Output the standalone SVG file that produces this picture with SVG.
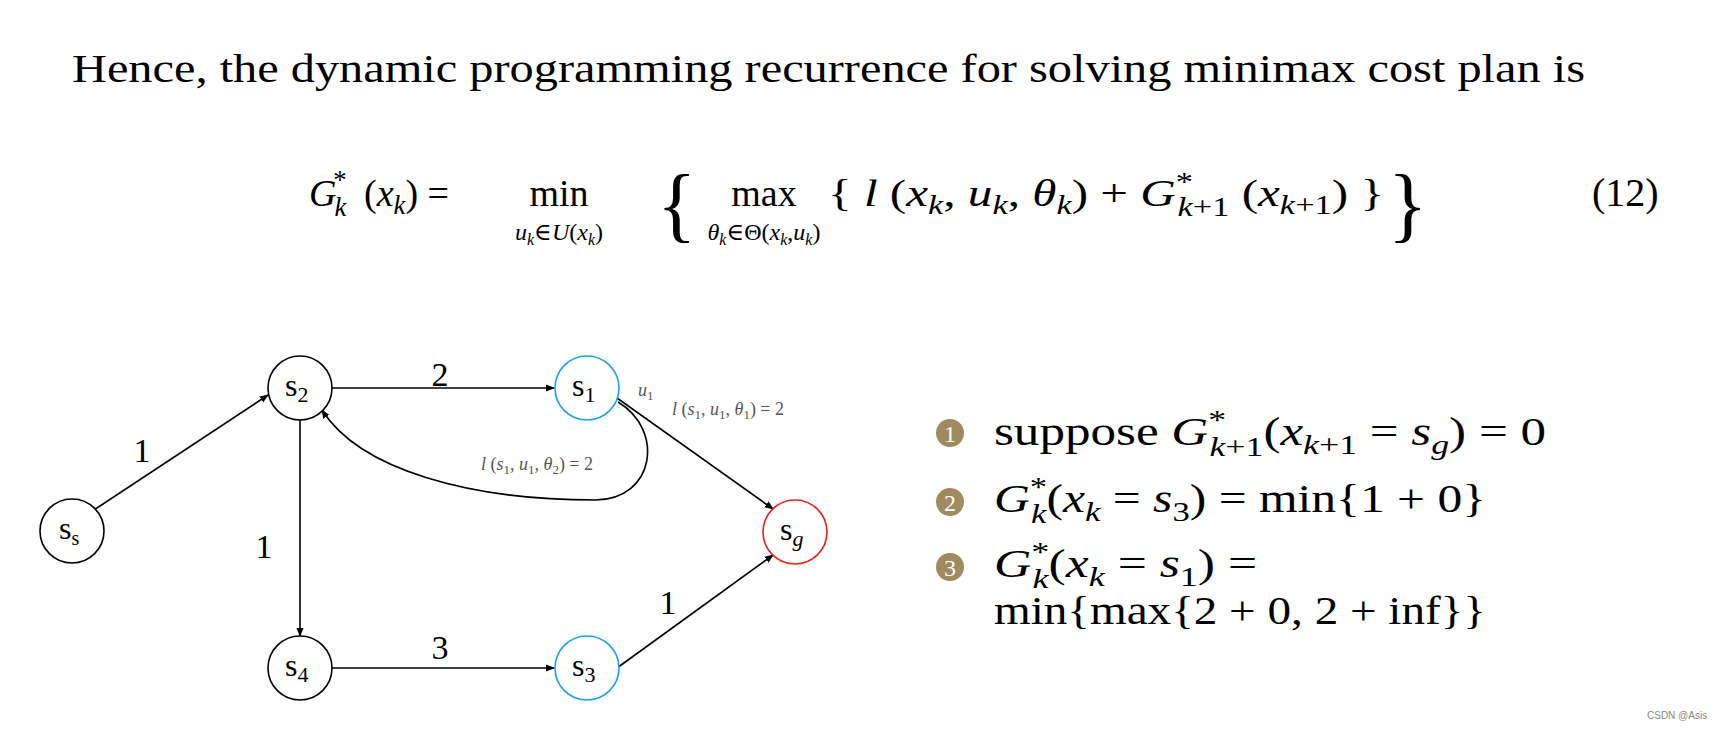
<svg xmlns="http://www.w3.org/2000/svg" width="1716" height="732" viewBox="0 0 1716 732">
<style>
text{font-family:"Liberation Serif","DejaVu Serif",serif;fill:#000}
.i{font-style:italic}
.n{fill:#fff;stroke-width:1.6}
.e{fill:none;stroke:#000;stroke-width:1.6}
.lbl{font-size:34px}
.g{fill:#555;font-size:18px}
.sub{font-size:0.7em}
</style>
<defs>
<marker id="a" viewBox="0 0 10 10" refX="9" refY="5" markerWidth="9" markerHeight="9" orient="auto" markerUnits="userSpaceOnUse"><path d="M0,1 L10,5 L0,9 z" fill="#000"/></marker>
</defs>
<rect width="1716" height="732" fill="#fff"/>
<text x="72" y="82" font-size="40" textLength="1513" lengthAdjust="spacingAndGlyphs">Hence, the dynamic programming recurrence for solving minimax cost plan is</text>
<g id="equation" font-size="38">
<text x="309" y="206" textLength="140" lengthAdjust="spacingAndGlyphs"><tspan class="i">G</tspan><tspan class="i sub" dy="10" dx="-2">k</tspan><tspan class="sub" dx="-13" dy="-27">*</tspan><tspan dy="17" dx="8"> (</tspan><tspan class="i">x</tspan><tspan class="i sub" dy="8">k</tspan><tspan dy="-8">) =</tspan></text>
<text x="559" y="206" text-anchor="middle">min</text>
<text x="559" y="240" text-anchor="middle" font-size="24"><tspan class="i">u<tspan font-size="16" dy="5">k</tspan></tspan><tspan dy="-5">∈</tspan><tspan class="i">U</tspan>(<tspan class="i">x<tspan font-size="16" dy="5">k</tspan></tspan><tspan dy="-5">)</tspan></text>
<text x="657" y="232" font-size="82">{</text>
<text x="764" y="206" text-anchor="middle">max</text>
<text x="764" y="240" text-anchor="middle" font-size="24"><tspan class="i">θ<tspan font-size="16" dy="5">k</tspan></tspan><tspan dy="-5">∈Θ(</tspan><tspan class="i">x<tspan font-size="16" dy="5">k</tspan></tspan><tspan dy="-5">,</tspan><tspan class="i">u<tspan font-size="16" dy="5">k</tspan></tspan><tspan dy="-5">)</tspan></text>
<text x="828" y="206" textLength="556" lengthAdjust="spacingAndGlyphs">{<tspan class="i"> l</tspan> (<tspan class="i">x</tspan><tspan class="i sub" dy="8">k</tspan><tspan dy="-8">, </tspan><tspan class="i">u</tspan><tspan class="i sub" dy="8">k</tspan><tspan dy="-8">, </tspan><tspan class="i">θ</tspan><tspan class="i sub" dy="8">k</tspan><tspan dy="-8">) + </tspan><tspan class="i">G</tspan><tspan class="sub" dy="-15">*</tspan><tspan class="sub" dx="-12" dy="25"><tspan class="i">k</tspan>+1</tspan><tspan dy="-10"> (</tspan><tspan class="i">x</tspan><tspan class="sub" dy="8"><tspan class="i">k</tspan>+1</tspan><tspan dy="-8">) }</tspan></text>
<text x="1388" y="232" font-size="82">}</text>
<text x="1592" y="206" font-size="40">(12)</text>
</g>
<g id="connectors">
<line class="e" x1="94" y1="510" x2="268" y2="395" marker-end="url(#a)"/>
<line class="e" x1="332" y1="388" x2="554" y2="388" marker-end="url(#a)"/>
<line class="e" x1="300" y1="420" x2="300" y2="636" marker-end="url(#a)"/>
<line class="e" x1="332" y1="668" x2="554" y2="668" marker-end="url(#a)"/>
<line class="e" x1="617" y1="398" x2="773" y2="509" marker-end="url(#a)"/>
<line class="e" x1="617" y1="668" x2="773" y2="555" marker-end="url(#a)"/>
<path class="e" d="M618,402 C665,430 655,500 595,500 C470,500 360,470 322,410" marker-end="url(#a)"/>
<text class="lbl" x="142" y="462" text-anchor="middle">1</text>
<text class="lbl" x="440" y="386" text-anchor="middle">2</text>
<text class="lbl" x="264" y="558" text-anchor="middle">1</text>
<text class="lbl" x="440" y="659" text-anchor="middle">3</text>
<text class="lbl" x="668" y="614" text-anchor="middle">1</text>
<text class="g" x="638" y="396"><tspan class="i">u</tspan><tspan font-size="13" dy="4">1</tspan></text>
<text class="g" x="672" y="415"><tspan class="i">l</tspan> (<tspan class="i">s</tspan><tspan font-size="13" dy="4">1</tspan><tspan dy="-4">, </tspan><tspan class="i">u</tspan><tspan font-size="13" dy="4">1</tspan><tspan dy="-4">, </tspan><tspan class="i">θ</tspan><tspan font-size="13" dy="4">1</tspan><tspan dy="-4">) = 2</tspan></text>
<text class="g" x="481" y="470"><tspan class="i">l</tspan> (<tspan class="i">s</tspan><tspan font-size="13" dy="4">1</tspan><tspan dy="-4">, </tspan><tspan class="i">u</tspan><tspan font-size="13" dy="4">1</tspan><tspan dy="-4">, </tspan><tspan class="i">θ</tspan><tspan font-size="13" dy="4">2</tspan><tspan dy="-4">) = 2</tspan></text>
</g>
<g id="ss"><circle class="n" cx="72" cy="531" r="32" stroke="#000"/><text x="59" y="539" font-size="32">s<tspan font-size="20" dy="6">s</tspan></text></g>
<g id="s2"><circle class="n" cx="300" cy="388" r="32" stroke="#000"/><text x="285" y="396" font-size="32">s<tspan font-size="22" dy="6">2</tspan></text></g>
<g id="s1"><circle class="n" cx="587" cy="388" r="32" stroke="#1ea0f0"/><text x="572" y="396" font-size="32">s<tspan font-size="22" dy="6">1</tspan></text></g>
<g id="sg"><circle class="n" cx="795" cy="532" r="32" stroke="#e8241a"/><text x="780" y="540" font-size="32">s<tspan class="i" font-size="22" dy="6">g</tspan></text></g>
<g id="s4"><circle class="n" cx="300" cy="668" r="32" stroke="#000"/><text x="285" y="676" font-size="32">s<tspan font-size="22" dy="6">4</tspan></text></g>
<g id="s3"><circle class="n" cx="587" cy="668" r="32" stroke="#1ea0f0"/><text x="572" y="676" font-size="32">s<tspan font-size="22" dy="6">3</tspan></text></g>
<g id="steps" font-size="40">
<circle cx="950" cy="433" r="14" fill="#a08a60"/><text x="950" y="442" font-size="24" text-anchor="middle" style="fill:#fff">1</text>
<circle cx="950" cy="502" r="14" fill="#a08a60"/><text x="950" y="511" font-size="24" text-anchor="middle" style="fill:#fff">2</text>
<circle cx="950" cy="567" r="14" fill="#a08a60"/><text x="950" y="576" font-size="24" text-anchor="middle" style="fill:#fff">3</text>
<text x="994" y="445" textLength="552" lengthAdjust="spacingAndGlyphs">suppose <tspan class="i">G</tspan><tspan class="sub" dy="-16">*</tspan><tspan class="sub" dx="-13" dy="27"><tspan class="i">k</tspan>+1</tspan><tspan dy="-11">(</tspan><tspan class="i">x</tspan><tspan class="sub" dy="9"><tspan class="i">k</tspan>+1</tspan><tspan dy="-9"> = </tspan><tspan class="i">s</tspan><tspan class="i sub" dy="9">g</tspan><tspan dy="-9">) = 0</tspan></text>
<text x="994" y="512" textLength="492" lengthAdjust="spacingAndGlyphs"><tspan class="i">G</tspan><tspan class="sub" dy="-16">*</tspan><tspan class="i sub" dx="-13" dy="27">k</tspan><tspan dy="-11">(</tspan><tspan class="i">x</tspan><tspan class="i sub" dy="9">k</tspan><tspan dy="-9"> = </tspan><tspan class="i">s</tspan><tspan class="sub" dy="9">3</tspan><tspan dy="-9">) = min{1 + 0}</tspan></text>
<text x="994" y="577" textLength="263" lengthAdjust="spacingAndGlyphs"><tspan class="i">G</tspan><tspan class="sub" dy="-16">*</tspan><tspan class="i sub" dx="-13" dy="27">k</tspan><tspan dy="-11">(</tspan><tspan class="i">x</tspan><tspan class="i sub" dy="9">k</tspan><tspan dy="-9"> = </tspan><tspan class="i">s</tspan><tspan class="sub" dy="9">1</tspan><tspan dy="-9">) =</tspan></text>
<text x="994" y="624" textLength="492" lengthAdjust="spacingAndGlyphs">min{max{2 + 0, 2 + inf}}</text>
</g>
<text x="1647" y="719" font-size="10" style="fill:#888;font-family:'Liberation Sans',sans-serif">CSDN @Asis</text>
</svg>
